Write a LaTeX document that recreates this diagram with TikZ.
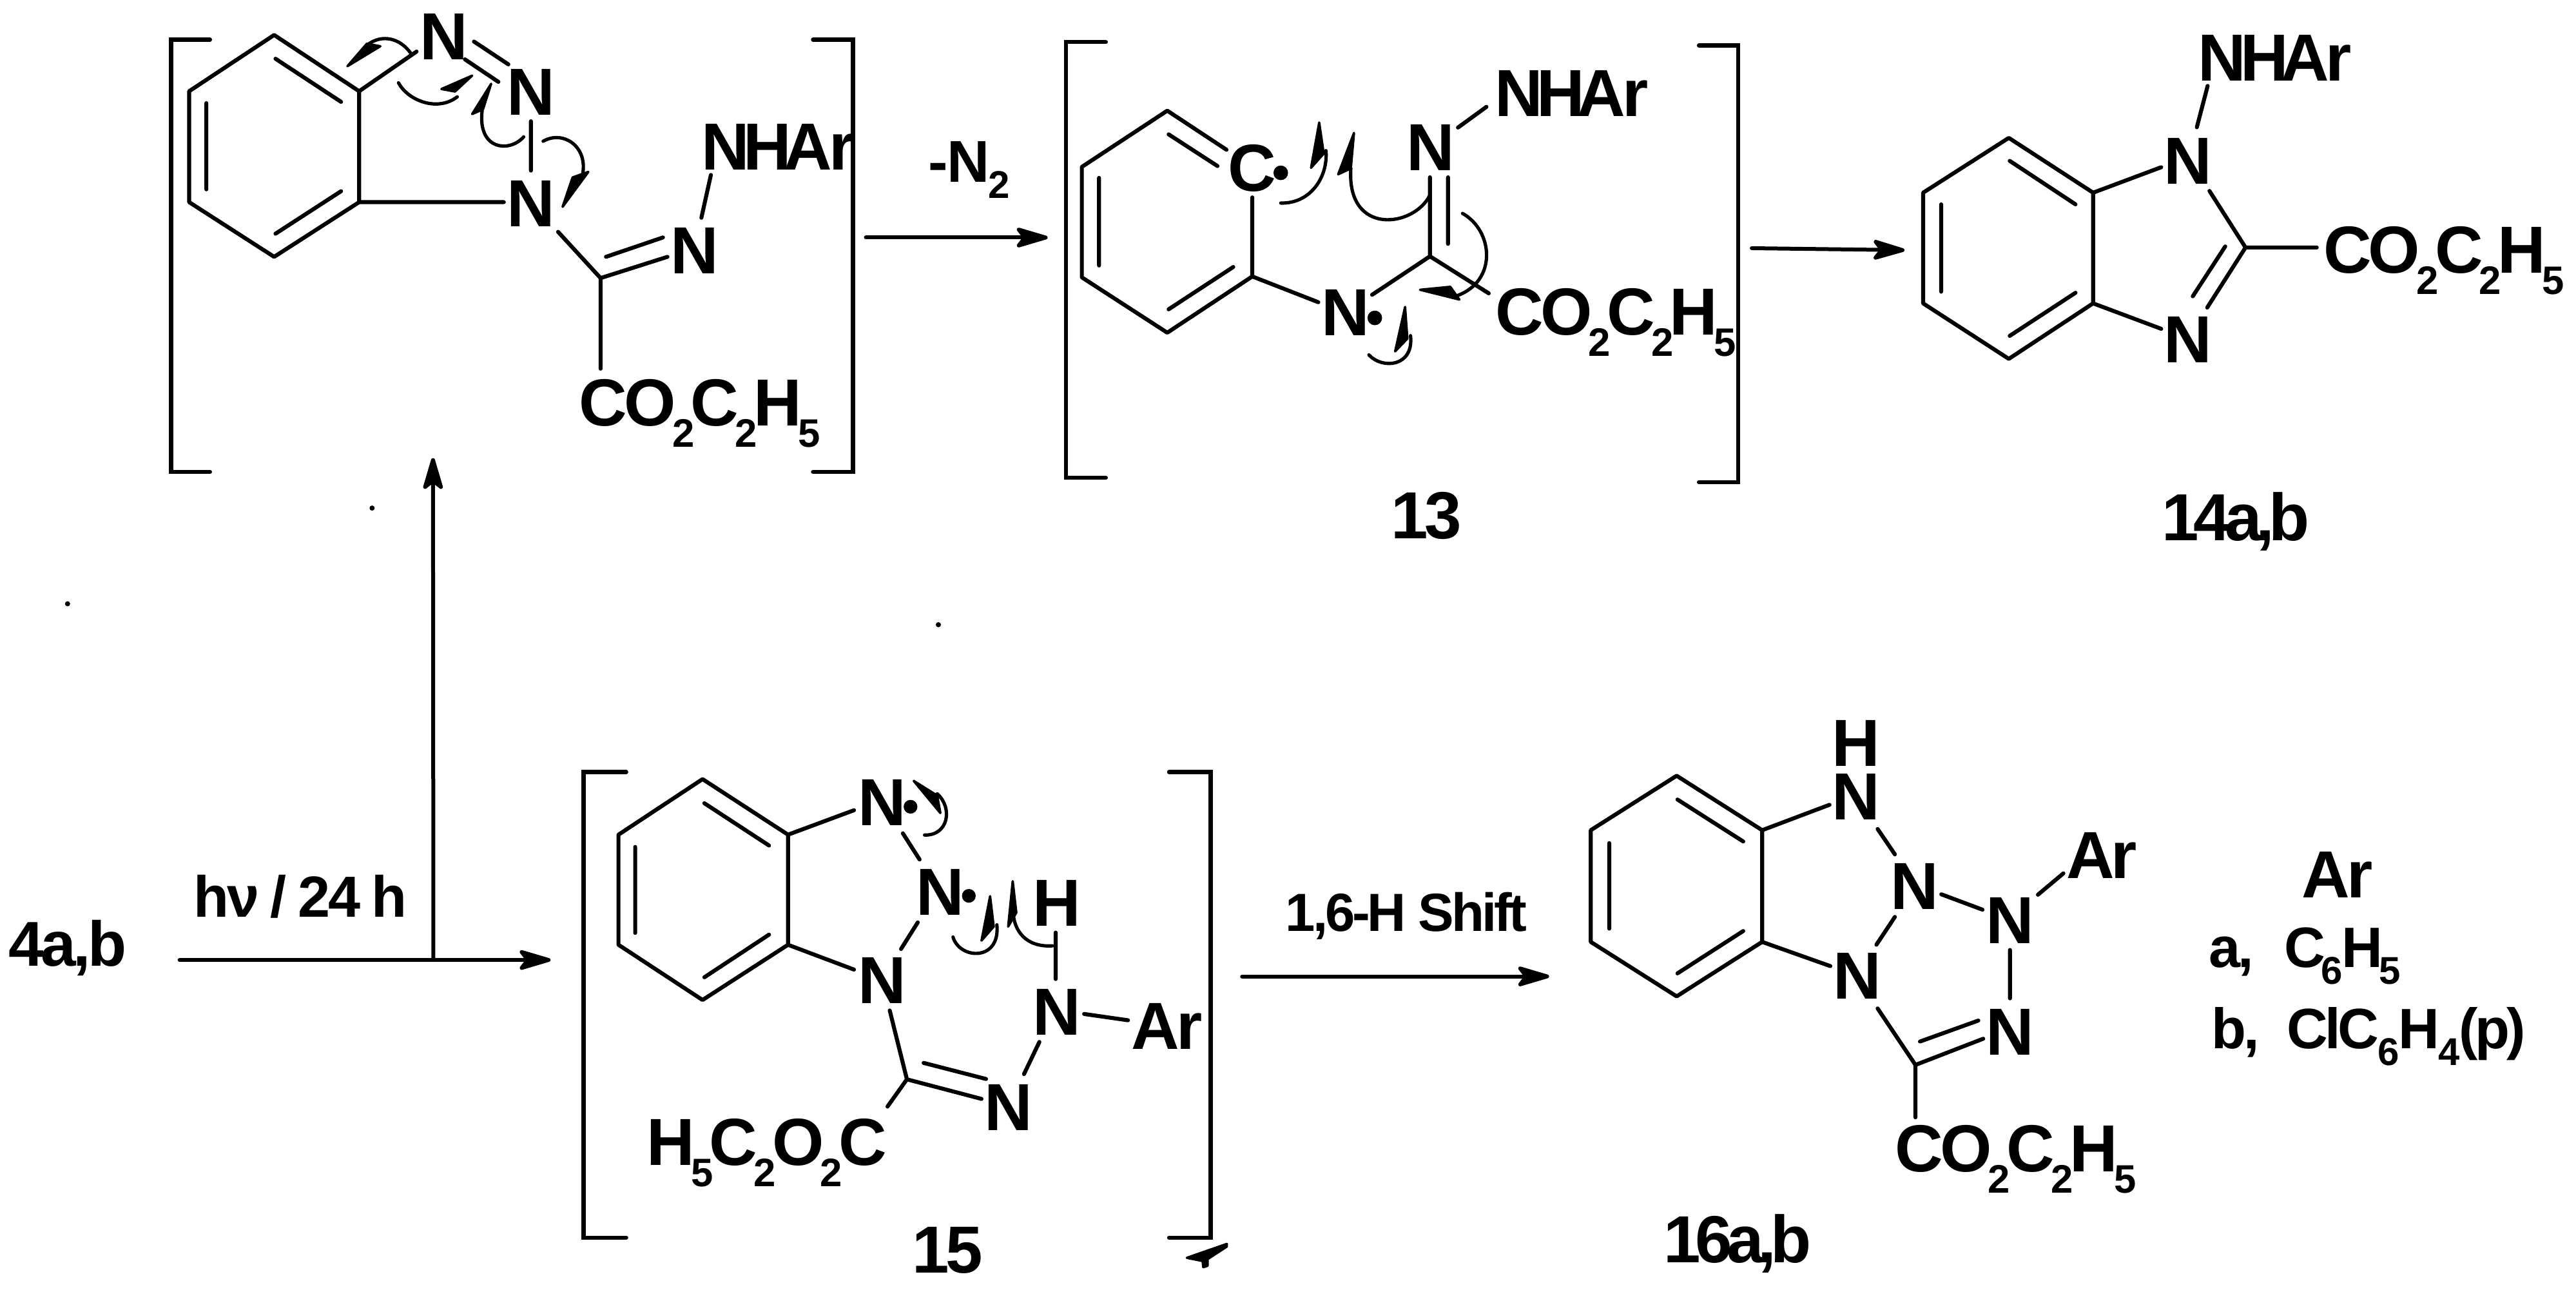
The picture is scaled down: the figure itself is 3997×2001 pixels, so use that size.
\documentclass[tikz,border=0pt]{standalone}
\usepackage{fontspec}
\setmainfont{Liberation Sans}[LetterSpace=-5]
\usetikzlibrary{arrows.meta}
\newcommand\labfont{\fontsize{31}{31}\selectfont\bfseries}
\newcommand\midfont{\fontsize{27.5}{27.5}\selectfont\bfseries}
\newcommand\smallfont{\fontsize{25}{25}\selectfont\bfseries}
\newcommand\tabfont{\fontsize{26.5}{26.5}\selectfont\bfseries}
\newcommand\dn[1]{\kern-.055em\raisebox{-10pt}{\fontsize{18.5}{18.5}\selectfont #1}\kern-.055em}
\newcommand\dnm[1]{\kern-.02em\raisebox{-7.7pt}{\fontsize{18}{18}\selectfont #1}\kern-.02em}
\newcommand\ester{CO\dn{2}C\dn{2}H\dn{5}}
\newcommand\nhar{N\kern-.09emH\kern-.11emAr}
\newcommand\tk{\kern-.035em}
\newcommand\tj{\kern-.085em}
\tikzset{
  zf/.style n args={4}{shift={(#1,#2)},x=0.3pt*#3/1568,y=-0.3pt*#4/1568},
  bond/.style={line width=1.85pt,line cap=round,line join=round},
  brk/.style={line width=1.95pt,line cap=round,line join=miter},
  curl/.style={line width=1.55pt,line cap=round},
  wedge/.style={fill=black,draw=black,line width=1.1pt,line join=round},
  rxn/.style={line width=1.8pt,line cap=round,-{Stealth[length=18pt,width=10.5pt,inset=4pt,round]}},
  lab/.style={font=\labfont,inner sep=0pt,outer sep=0pt},
  labw/.style={lab,anchor=base west},
  stray/.style={fill=black}
}
\begin{document}
\begin{tikzpicture}[x=0.3pt,y=-0.3pt]
\useasboundingbox (0,0) rectangle (3997,2001);
\fill[white] (0,0) rectangle (3997,2001);

% ---- structure top left
\begin{scope}[zf={250}{0}{1100}{760}]
\draw[brk] (108,127)--(22,127)--(22,1510)--(108,1510);
\draw[brk] (1442,127)--(1530,127)--(1530,1510)--(1442,1510);
\draw[bond] (250,112)--(438,292)--(438,647)--(250,822)--(62,647)--(62,292)--cycle;
\draw[bond] (253,188)--(398,326) (100,330)--(100,606) (398,612)--(253,748);
\draw[bond] (438,292)--(565,165) (672,190)--(746,262) (692,133)--(768,206);
\draw[bond] (818,388)--(818,546) (438,647)--(758,647) (878,742)--(972,890);
\draw[bond] (972,890)--(1120,822) (984,822)--(1110,760) (1195,697)--(1216,560) (972,890)--(972,1180);
\node[lab] (a1) at (625,117) {N};
\node[lab] (a2) at (818,294) {N};
\node[lab] (a3) at (818,652) {N};
\node[lab] (a4) at (1180,803) {N};
\node[labw] (a5) at (1195,543) {\nhar};
\node[labw] (a6) at (925,1362) {\ester};
\draw[curl] (552,170) .. controls (530,125) and (490,105) .. (455,145);
\fill[wedge] (412,212)--(455,140)--(485,148)--cycle;
\draw[curl] (525,265) .. controls (545,320) and (610,360) .. (655,310);
\fill[wedge] (688,242)--(620,285)--(650,293)--cycle;
\draw[curl] (802,438) .. controls (770,490) and (700,480) .. (710,355);
\fill[wedge] (730,268)--(688,365)--(712,350)--cycle;
\draw[curl] (845,452) .. controls (890,415) and (945,470) .. (932,560);
\fill[wedge] (888,662)--(910,568)--(945,550)--cycle;
\end{scope}

% ---- intermediate 13
\begin{scope}[zf={1640}{50}{1100}{720}]
\draw[brk] (108,33)--(20,33)--(20,1505)--(108,1505);
\draw[brk] (1420,45)--(1507,45)--(1507,1520)--(1420,1520);
\draw[bond] (375,397)--(244,265)--(55,455)--(55,828)--(244,1015)--(432,825)--(432,558);
\draw[bond] (247,345)--(355,452) (93,492)--(93,788) (390,793)--(247,936);
\draw[bond] (432,825)--(578,912) (697,887)--(825,757)--(825,490) (865,715)--(865,490);
\draw[bond] (887,322)--(950,252) (825,757)--(955,882);
\node[lab] (b1) at (432,460) {C};
\node[lab] (b2) at (638,948) {N};
\node[lab] (b3) at (826,390) {N};
\node[labw] (b4) at (968,285) {\nhar};
\node[labw] (b5) at (970,1022) {\ester};
\fill (495,475) circle[radius=3.4pt];
\fill (703,965) circle[radius=3.4pt];
\draw[curl] (495,577) .. controls (560,580) and (600,490) .. (595,400);
\fill[wedge] (580,305)--(562,458)--(590,410)--cycle;
\draw[curl] (825,550) .. controls (790,660) and (640,690) .. (650,460);
\fill[wedge] (657,340)--(622,480)--(650,460)--cycle;
\draw[curl] (897,612) .. controls (965,670) and (975,840) .. (885,890);
\fill[wedge] (803,870)--(870,860)--(890,903)--cycle;
\draw[curl] (690,1090) .. controls (720,1140) and (790,1130) .. (782,1025);
\fill[wedge] (770,928)--(748,1078)--(775,1035)--cycle;
\end{scope}
\node[lab] (n13) at (2213,800) {13};

% ---- product 14
\begin{scope}[zf={2900}{0}{1097}{860}]
\draw[bond] (310,390)--(497,545)--(497,858)--(310,1015)--(120,858)--(120,545)--cycle;
\draw[bond] (312,455)--(458,578) (160,578)--(160,825) (458,828)--(312,950);
\draw[bond] (497,545)--(648,473) (497,858)--(648,930) (755,540)--(835,700)--(750,870) (790,697)--(718,838);
\draw[bond] (835,700)--(993,700) (727,360)--(751,243);
\node[lab] (c1) at (707,455) {N};
\node[lab] (c2) at (707,960) {N};
\node[labw] (c3) at (730,228) {\nhar};
\node[labw] (c4) at (1008,772) {\ester};
\node[labw] (n14) at (650,1528) {1\tj 4\tj a\tj ,\tj b};
\end{scope}

% ---- intermediate 15
\begin{scope}[zf={900}{1150}{1100}{850}]
\draw[brk] (102,88)--(8,88)--(8,1420)--(102,1420);
\draw[brk] (1303,88)--(1395,88)--(1395,1420)--(1303,1420);
\draw[bond] (271,108)--(460,267)--(460,582)--(271,740)--(85,582)--(85,267)--cycle;
\draw[bond] (275,177)--(418,298) (122,302)--(122,548) (418,553)--(275,675);
\draw[bond] (460,267)--(606,197) (714,263)--(751,338) (747,518)--(710,594) (460,582)--(606,653);
\draw[bond] (685,770)--(723,967)--(888,1023) (760,920)--(898,966) (982,952)--(1016,860);
\draw[bond] (1115,780)--(1212,798) (1052,680)--(1052,547) (723,967)--(680,1045);
\node[lab] (d1) at (668,175) {N};
\node[lab] (d2) at (796,431) {N};
\node[lab] (d3) at (1055,462) {H};
\node[lab] (d4) at (668,685) {N};
\node[lab] (d5) at (1055,775) {N};
\node[lab] (d6) at (1298,815) {Ar};
\node[lab] (d7) at (947,1048) {N};
\node[labw] (d8) at (147,1212) {H\dn{5}C\dn{2}O\dn{2}C};
\node[lab] (n15) at (813,1456) {15};
\fill (731,187) circle[radius=3.2pt];
\fill (860,442) circle[radius=3.2pt];
\draw[curl] (762,268) .. controls (815,270) and (825,190) .. (790,150);
\fill[wedge] (738,113)--(797,205)--(790,155)--cycle;
\draw[curl] (825,560) .. controls (840,625) and (930,630) .. (922,525);
\fill[wedge] (907,443)--(888,570)--(915,530)--cycle;
\draw[curl] (1045,585) .. controls (985,590) and (960,540) .. (958,490);
\fill[wedge] (957,400)--(947,530)--(965,490)--cycle;
\end{scope}

% ---- product 16
\begin{scope}[zf={2400}{1020}{1000}{981}]
\draw[bond] (316,293)--(524,428)--(524,705)--(316,840)--(107,705)--(107,428)--cycle;
\draw[bond] (318,352)--(478,456) (152,460)--(152,672) (478,678)--(318,783);
\draw[bond] (524,428)--(688,365) (805,425)--(847,488) (847,643)--(802,712) (524,705)--(690,765);
\draw[bond] (805,870)--(897,1010)--(1062,945) (908,952)--(1050,900) (1127,845)--(1127,725);
\draw[bond] (960,587)--(1060,625) (1195,588)--(1257,535) (897,1010)--(897,1140);
\node[lab] (e1) at (753,345) {N};
\node[lab] (e2) at (752,212) {H};
\node[lab] (e3) at (895,567) {N};
\node[lab] (e4) at (755,790) {N};
\node[lab] (e5) at (1127,928) {N};
\node[lab] (e6) at (1127,652) {N};
\node[lab] (e7) at (1350,490) {Ar};
\node[labw] (e8) at (848,1275) {\ester};
\node[labw] (n16) at (285,1500) {1\tj 6\tj a\tj ,\tj b};
\end{scope}

% ---- Ar table (crop seen at 1/3 px vertically)
\begin{scope}[zf={3300}{1250}{697}{522.7}]
\node[lab] (f1) at (735,322) {Ar};
\node[inner sep=0pt,anchor=base west,font=\tabfont] (f2) at (285,752) {a,};
\node[inner sep=0pt,anchor=base west,font=\tabfont] (f3) at (548,752) {C\kern-.05em\dnm{6}H\kern-.05em\dnm{5}};
\node[inner sep=0pt,anchor=base west,font=\tabfont] (f4) at (295,1130) {b,};
\node[inner sep=0pt,anchor=base west,font=\tabfont] (f5) at (557,1130) {ClC\dnm{6}H\dnm{4}(p)};
\end{scope}

% ---- left part: start, arrows
\begin{scope}[zf={0}{650}{950}{950}]
\node[inner sep=0pt,anchor=base west,font=\fontsize{29.5}{29.5}\selectfont\bfseries] (s) at (22,1400) {4a,b};
\node[inner sep=0pt,anchor=base west,font=\fontsize{27}{27}\selectfont\bfseries] (hv) at (495,1275) {h\tk ν\tk\ / \tk 2\tk 4\tk\ h};
\coordinate (g1) at (460,1385);
\coordinate (g2) at (1410,1385);
\coordinate (g3) at (1110,1385);
\coordinate (g4) at (1109,100);
\draw[rxn] (g1) -- (g2);
\draw[rxn] (g3) -- (g4);
\fill[stray] (953,228) circle[radius=1.2pt];
\fill[stray] (173,473) circle[radius=1.2pt];
\end{scope}
\fill[stray] (1456,969) circle[radius=1.2pt];

% ---- arrow -N2
\begin{scope}[zf={1200}{150}{600}{600}]
\node[inner sep=0pt,anchor=base west,font=\midfont] (m) at (627,345) {-\kern-.02em N\dnm{2}};
\coordinate (h1) at (375,571);
\coordinate (h2) at (1112,571);
\draw[rxn] (h1) -- (h2);
\end{scope}

% ---- arrow 13 to 14
\coordinate (i1) at (2718,385);
\coordinate (i2) at (2955,388);
\draw[rxn] (i1) -- (i2);

% ---- arrow 1,6-H shift and stray tick
\begin{scope}[zf={1800}{1350}{700}{650}]
\node[inner sep=0pt,anchor=base west,font=\smallfont] (k) at (435,228) {1,6-H Shift};
\coordinate (j1) at (285,397);
\coordinate (j2) at (1352,397);
\draw[rxn] (j1) -- (j2);
\fill[wedge] (93,1450)--(232,1398)--(232,1408)--(165,1455)--(165,1480)--(150,1485)--(148,1462)--cycle;
\end{scope}
\end{tikzpicture}
\end{document}
